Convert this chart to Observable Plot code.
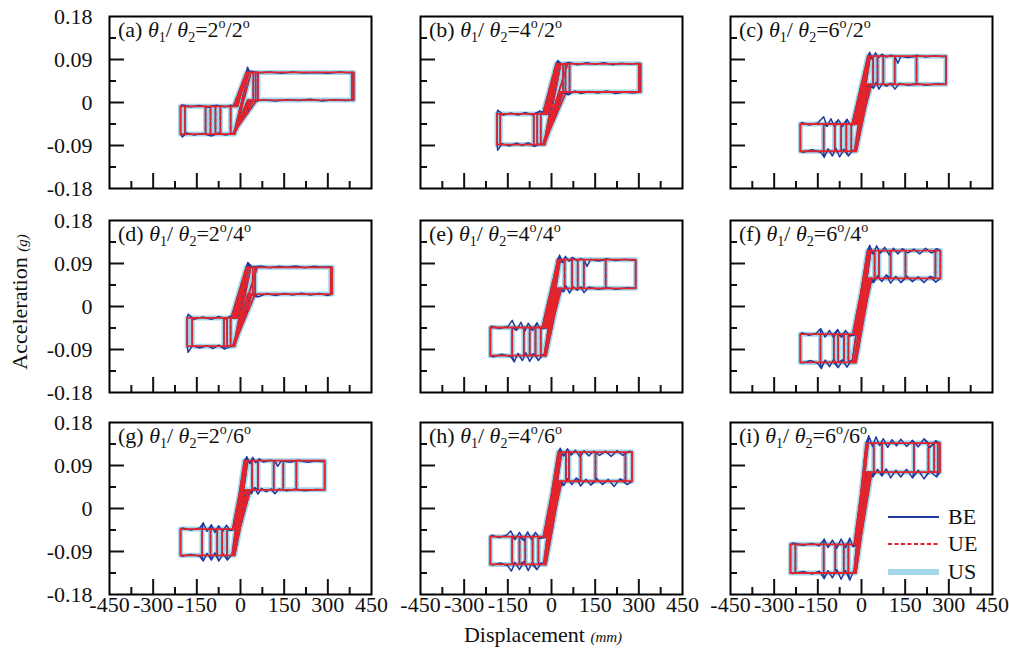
<!DOCTYPE html>
<html><head><meta charset="utf-8">
<script src="https://cdn.jsdelivr.net/npm/d3@7"></script>
<script src="https://cdn.jsdelivr.net/npm/@observablehq/plot@0.6"></script>
<style>
body{margin:0;background:#fff;}
#chart{position:relative;width:1009px;height:655px;overflow:hidden;background:#fff;font-family:"Liberation Serif","Times New Roman",serif;color:#111;}
.panel{position:absolute;}
.ptitle{position:absolute;font-size:22px;white-space:nowrap;line-height:22px;}
.ptitle .s{font-size:14px;position:relative;top:5px;}
.ptitle .o{font-size:14px;position:relative;top:-9px;}
.axt{position:absolute;font-size:22px;white-space:nowrap;line-height:22px;}
.axt .u{font-size:15px;font-style:italic;}
</style></head><body><div id="chart"></div>
<script>
// ---------- data ----------
const panelIds = ["a","b","c","d","e","f","g","h","i"];
const theta1 = [2,4,6,2,4,6,2,4,6];
const theta2 = [2,2,2,4,4,4,6,6,6];
const xTickValues = [-450,-300,-150,0,150,300,450];
const xTickLabels = ["-450","-300","-150","0","150","300","450"];
const xMinorValues = [-375,-225,-75,75,225,375];
const yTickValues = [-0.18,-0.09,0,0.09,0.18];
const yTickLabels = ["-0.18","-0.09","0","0.09","0.18"];
const yMinorValues = [-0.135,-0.045,0.045,0.135];
const seriesNames = ["BE","UE","US"];

// plateau levels (g)
const posTop = [0.063,0.081,0.097,0.082,0.098,0.117,0.100,0.118,0.137];
const posBot = [0.005,0.022,0.038,0.026,0.038,0.059,0.039,0.057,0.076];
const negTop = [-0.008,-0.024,-0.045,-0.024,-0.044,-0.058,-0.043,-0.059,-0.075];
const negBot = [-0.066,-0.088,-0.102,-0.083,-0.103,-0.117,-0.098,-0.117,-0.135];
// per cycle: where the lower positive plateau / upper negative plateau leave for the steep branch (mm)
const posEdge = [
  [62,50,40,30,56,45,35,25],[55,45,35,25,60,50,40,30],[38,30,22,14,34,26,18,10],
  [55,45,35,25,65,50,40,30],[38,30,22,14,34,26,18,10],[38,32,26,20,35,29,23,16],
  [31,25,19,12,34,28,22,8],[38,32,26,20,35,29,23,17],[35,30,25,20,33,28,23,15]
];
const negEdge = [
  [-24,-20,-16,-12,-22,-18,-14,-10],[-30,-25,-20,-15,-28,-23,-18,-12],[-32,-26,-20,-14,-29,-23,-17,-10],
  [-32,-26,-20,-14,-29,-23,-17,-11],[-32,-26,-20,-14,-29,-23,-17,-10],[-32,-27,-22,-17,-30,-25,-20,-12],
  [-29,-24,-19,-14,-27,-22,-17,-12],[-30,-25,-20,-15,-28,-23,-18,-11],[-26,-22,-18,-14,-25,-20,-16,-13]
];
// reversal displacements of each cycle (mm)
const posRev = [
  [28,36,44,52,60,389,383,389],
  [25,32,40,48,55,62,306,300],
  [30,40,55,75,114,189,290,290],
  [28,35,42,50,57,315,310,315],
  [30,45,71,90,111,186,289,289],
  [32,45,60,100,151,254,271,271],
  [25,40,60,114,147,192,289,289],
  [35,50,60,100,151,254,277,277],
  [42,71,180,230,250,262,269,269]
];
const negRev = [
  [-34,-69,-86,-103,-120,-191,-206,-206],
  [-37,-49,-61,-176,-187,-187,-61,-49],
  [-35,-52,-70,-92,-130,-210,-210,-52],
  [-34,-46,-57,-166,-183,-183,-46,-57],
  [-37,-55,-75,-95,-135,-210,-210,-55],
  [-32,-45,-60,-80,-95,-141,-210,-210],
  [-29,-46,-63,-80,-103,-132,-206,-206],
  [-27,-45,-65,-90,-110,-135,-210,-210],
  [-26,-45,-61,-90,-130,-227,-244,-244]
];
// where the steep branch meets the top / bottom plateau, per cycle (mm)
const topTip = [
  [20,23,26,21,24,22,25,23],[16,19,22,18,21,17,20,23],[22,25,28,24,27,23,26,29],
  [20,23,26,21,24,22,25,23],[22,25,28,23,26,21,24,27],[22,25,28,23,26,21,24,27],
  [14,17,20,15,18,13,16,19],[24,27,30,25,28,23,26,29],[17,20,23,18,21,16,19,22]
];
const botTip = [
  [-26,-23,-20,-25,-22,-27,-24,-21],[-29,-26,-23,-28,-25,-30,-27,-24],[-24,-21,-18,-23,-20,-25,-22,-19],
  [-26,-23,-20,-25,-22,-27,-24,-21],[-25,-22,-19,-24,-21,-26,-23,-20],[-25,-22,-19,-24,-21,-26,-23,-20],
  [-26,-23,-20,-25,-22,-27,-24,-21],[-25,-22,-19,-24,-21,-26,-23,-20],[-25,-22,-19,-24,-21,-26,-23,-20]
];
// BE (measured) fluctuations along each plateau: [x (mm), y (g)]
const beUpperPos = [
  [[24,0.074],[30,0.066],[60,0.062],[100,0.064],[140,0.061],[180,0.064],[220,0.062],[260,0.063],[300,0.061],[340,0.064],[375,0.062]],
  [[22,0.088],[35,0.080],[60,0.084],[90,0.079],[120,0.083],[150,0.080],[180,0.083],[210,0.079],[240,0.082],[270,0.080],[295,0.082]],
  [[28,0.105],[38,0.090],[48,0.104],[58,0.094],[70,0.101],[85,0.095],[100,0.099],[115,0.096],[125,0.082],[135,0.097],[160,0.094],[190,0.099],[220,0.095],[250,0.098],[280,0.096]],
  [[25,0.092],[40,0.083],[70,0.085],[100,0.081],[130,0.084],[160,0.082],[190,0.085],[220,0.081],[250,0.084],[280,0.082],[305,0.083]],
  [[28,0.107],[38,0.092],[48,0.105],[60,0.095],[72,0.103],[88,0.096],[100,0.100],[112,0.097],[122,0.084],[135,0.099],[160,0.095],[190,0.100],[220,0.096],[250,0.099],[280,0.097]],
  [[28,0.128],[40,0.110],[52,0.127],[65,0.112],[80,0.124],[95,0.108],[110,0.122],[125,0.110],[140,0.121],[160,0.112],[180,0.120],[200,0.110],[220,0.122],[240,0.112],[258,0.121]],
  [[22,0.108],[32,0.094],[42,0.107],[52,0.096],[65,0.104],[80,0.097],[100,0.101],[118,0.099],[128,0.088],[140,0.100],[170,0.097],[200,0.101],[230,0.097],[260,0.100],[282,0.098]],
  [[30,0.126],[42,0.110],[55,0.125],[68,0.112],[82,0.122],[98,0.108],[112,0.121],[128,0.110],[145,0.120],[165,0.111],[185,0.120],[205,0.109],[225,0.121],[245,0.111],[268,0.120]],
  [[25,0.152],[38,0.130],[50,0.150],[62,0.132],[75,0.146],[90,0.128],[105,0.144],[120,0.131],[135,0.145],[155,0.130],[175,0.143],[195,0.129],[215,0.146],[235,0.128],[255,0.142]]
];
const beLowerPos = [
  [[50,0.002],[80,0.006],[120,0.003],[160,0.006],[200,0.004],[240,0.007],[280,0.003],[320,0.006],[360,0.004]],
  [[58,0.016],[80,0.024],[100,0.019],[130,0.023],[160,0.020],[190,0.024],[220,0.019],[250,0.022],[280,0.020]],
  [[42,0.030],[50,0.042],[60,0.028],[72,0.040],[85,0.034],[100,0.040],[115,0.028],[130,0.040],[160,0.036],[190,0.040],[220,0.036],[260,0.039]],
  [[60,0.020],[90,0.027],[120,0.023],[150,0.027],[180,0.024],[210,0.028],[240,0.024],[270,0.027],[300,0.023]],
  [[42,0.031],[50,0.043],[62,0.028],[75,0.041],[88,0.034],[100,0.041],[112,0.029],[128,0.041],[160,0.036],[190,0.040],[220,0.036],[260,0.039]],
  [[42,0.050],[55,0.064],[70,0.052],[85,0.066],[100,0.049],[118,0.063],[135,0.050],[155,0.064],[175,0.052],[195,0.062],[215,0.050],[235,0.063],[255,0.051]],
  [[38,0.031],[48,0.044],[60,0.030],[72,0.042],[88,0.035],[105,0.041],[118,0.031],[132,0.041],[160,0.037],[190,0.041],[220,0.037],[260,0.040]],
  [[42,0.048],[55,0.062],[70,0.050],[85,0.064],[100,0.047],[118,0.061],[135,0.049],[155,0.063],[175,0.050],[195,0.061],[215,0.046],[235,0.062],[260,0.050]],
  [[40,0.066],[55,0.082],[70,0.068],[85,0.083],[100,0.064],[118,0.080],[135,0.066],[155,0.082],[175,0.064],[195,0.080],[215,0.062],[235,0.078],[258,0.066]]
];
const beUpperNeg = [
  [[-200,-0.005],[-170,-0.009],[-140,-0.006],[-110,-0.010],[-80,-0.006],[-50,-0.009],[-35,-0.006]],
  [[-185,-0.016],[-165,-0.026],[-140,-0.022],[-115,-0.026],[-90,-0.021],[-65,-0.026],[-40,-0.018]],
  [[-205,-0.042],[-180,-0.047],[-150,-0.043],[-130,-0.030],[-118,-0.050],[-105,-0.034],[-92,-0.052],[-80,-0.036],[-65,-0.050],[-50,-0.035],[-38,-0.047]],
  [[-180,-0.016],[-160,-0.027],[-130,-0.022],[-100,-0.027],[-75,-0.021],[-50,-0.026],[-35,-0.020]],
  [[-205,-0.041],[-180,-0.046],[-150,-0.042],[-135,-0.029],[-120,-0.050],[-105,-0.033],[-92,-0.052],[-80,-0.035],[-65,-0.050],[-50,-0.034],[-38,-0.047]],
  [[-205,-0.055],[-180,-0.060],[-155,-0.056],[-140,-0.046],[-125,-0.064],[-110,-0.050],[-95,-0.066],[-82,-0.048],[-68,-0.064],[-55,-0.050],[-40,-0.062]],
  [[-200,-0.041],[-170,-0.045],[-140,-0.041],[-128,-0.030],[-115,-0.048],[-100,-0.034],[-88,-0.050],[-75,-0.036],[-62,-0.049],[-48,-0.035],[-36,-0.046]],
  [[-205,-0.056],[-180,-0.061],[-155,-0.056],[-140,-0.047],[-125,-0.065],[-110,-0.050],[-95,-0.067],[-82,-0.049],[-68,-0.066],[-55,-0.050],[-40,-0.063]],
  [[-235,-0.072],[-200,-0.077],[-170,-0.073],[-145,-0.078],[-128,-0.064],[-115,-0.082],[-100,-0.066],[-85,-0.083],[-70,-0.064],[-55,-0.082],[-40,-0.062],[-30,-0.080]]
];
const beLowerNeg = [
  [[-200,-0.072],[-185,-0.064],[-160,-0.068],[-130,-0.065],[-100,-0.070],[-75,-0.064],[-50,-0.068],[-30,-0.065]],
  [[-185,-0.100],[-170,-0.086],[-145,-0.091],[-120,-0.085],[-100,-0.090],[-80,-0.084],[-60,-0.092],[-40,-0.087]],
  [[-200,-0.104],[-170,-0.099],[-140,-0.104],[-128,-0.115],[-115,-0.097],[-100,-0.112],[-88,-0.096],[-75,-0.114],[-60,-0.098],[-45,-0.112],[-30,-0.100]],
  [[-180,-0.096],[-165,-0.082],[-140,-0.087],[-115,-0.082],[-95,-0.088],[-75,-0.081],[-55,-0.089],[-35,-0.084]],
  [[-200,-0.105],[-170,-0.100],[-140,-0.105],[-128,-0.116],[-115,-0.098],[-100,-0.113],[-88,-0.097],[-75,-0.115],[-60,-0.099],[-45,-0.113],[-30,-0.101]],
  [[-200,-0.118],[-175,-0.113],[-150,-0.119],[-138,-0.130],[-125,-0.112],[-110,-0.126],[-95,-0.110],[-80,-0.128],[-65,-0.112],[-50,-0.127],[-35,-0.113]],
  [[-200,-0.100],[-170,-0.096],[-140,-0.100],[-128,-0.110],[-115,-0.094],[-100,-0.108],[-88,-0.093],[-75,-0.110],[-60,-0.095],[-45,-0.108],[-30,-0.097]],
  [[-200,-0.118],[-175,-0.114],[-150,-0.120],[-138,-0.131],[-125,-0.113],[-110,-0.128],[-95,-0.111],[-80,-0.130],[-65,-0.112],[-50,-0.128],[-35,-0.114]],
  [[-235,-0.136],[-200,-0.132],[-170,-0.137],[-145,-0.131],[-128,-0.147],[-115,-0.130],[-100,-0.145],[-85,-0.128],[-70,-0.148],[-55,-0.130],[-40,-0.150],[-28,-0.132]]
];

// ---------- styling ----------
const colors = {BE:"#1f3c9e", UE:"#e4232a", US:"#a4d6e8"};
const colLeft = [109,420,730], rowTop = [16,220,422];
const PW = 262, PH = 172, ML = 75, MR = 28, MT = 6, MB = 36;

// assemble the traced path of one panel from the values above
function buildPath(p, withNoise) {
  const pt=posTop[p], pb=posBot[p], nt=negTop[p], nb=negBot[p];
  const SR=posEdge[p], SL=negEdge[p];
  const P=posRev[p], N=negRev[p], TT=topTip[p], TB=botTip[p];
  const out=[];
  const add=(x,y)=>out.push({x,y});
  const along=(arr,xa,xb)=>{
    if(!withNoise) return;
    const lo=Math.min(xa,xb), hi=Math.max(xa,xb);
    let pts=arr.filter(d=>d[0]>lo&&d[0]<hi);
    if(xb<xa) pts=pts.slice().reverse();
    pts.forEach(d=>add(d[0],d[1]));
  };
  add(TB[0], nb);
  for(let k=0;k<P.length;k++){
    const xN=N[k], xP=P[k], sL=SL[k], sR=SR[k];
    along(beLowerNeg[p], TB[k], xN); add(xN, nb);
    if(xN < sL){ add(xN, nt); along(beUpperNeg[p], xN, sL); add(sL, nt); }
    add(TT[k], pt);
    along(beUpperPos[p], TT[k], xP); add(xP, pt);
    if(xP > sR){ add(xP, pb); along(beLowerPos[p], xP, sR); add(sR, pb); }
    add(TB[(k+1)%P.length], nb);
  }
  return out;
}

const chart = document.getElementById("chart");
const tickStyle = {strokeWidth:2, label:null, tickFormat:()=>""};

panelIds.forEach((id,p)=>{
  const col=p%3, row=Math.floor(p/3);
  const us=buildPath(p,false), ue=buildPath(p,false), be=buildPath(p,true);
  const marks=[
    Plot.line(us,{x:"x",y:"y",stroke:colors.US,strokeWidth:5,strokeLinejoin:"round"}),
    Plot.line(be,{x:"x",y:"y",stroke:colors.BE,strokeWidth:1.5,strokeLinejoin:"round"}),
    Plot.line(ue,{x:"x",y:"y",stroke:colors.UE,strokeWidth:1.8,strokeDasharray:"4,2.5"}),
    Plot.axisX({ticks:xTickValues.slice(1,-1),tickSize:-15,...tickStyle}),
    Plot.axisX({ticks:xMinorValues,tickSize:-7,...tickStyle}),
    Plot.axisY({ticks:yTickValues.slice(1,-1),tickSize:-15,...tickStyle}),
    Plot.axisY({ticks:yMinorValues,tickSize:-7,...tickStyle}),
    Plot.frame({stroke:"#000",strokeWidth:2})
  ];
  if(row===2) marks.push(Plot.axisX({ticks:xTickValues,tickSize:0,tickPadding:2,label:null,
    tickFormat:d=>xTickLabels[xTickValues.indexOf(d)]}));
  if(col===0) marks.push(Plot.axisY({ticks:yTickValues,tickSize:0,tickPadding:17,label:null,
    tickFormat:d=>yTickLabels[yTickValues.indexOf(d)]}));
  const svg=Plot.plot({
    width:ML+PW+MR, height:MT+PH+MB,
    marginLeft:ML, marginRight:MR, marginTop:MT, marginBottom:MB,
    x:{domain:[-450,450]}, y:{domain:[-0.18,0.18]},
    style:{fontFamily:"Liberation Serif, Times New Roman, serif",fontSize:"22px",background:"transparent",overflow:"visible",color:"#111"},
    marks
  });
  svg.classList.add("panel");
  svg.style.left=(colLeft[col]-ML)+"px";
  svg.style.top=(rowTop[row]-MT)+"px";
  chart.appendChild(svg);
  const t=document.createElement("div");
  t.className="ptitle";
  t.style.left=(colLeft[col]+9)+"px";
  t.style.top=(rowTop[row]+3)+"px";
  t.innerHTML=`(${id}) <i>θ</i><span class="s">1</span>/ <i>θ</i><span class="s">2</span>=${theta1[p]}<span class="o">o</span>/${theta2[p]}<span class="o">o</span>`;
  chart.appendChild(t);
});

// axis titles
const yt=document.createElement("div");
yt.className="axt";
yt.style.left="21px"; yt.style.top="302px";
yt.style.transform="translate(-50%,-50%) rotate(-90deg)";
yt.innerHTML='Acceleration <span class="u">(g)</span>';
chart.appendChild(yt);
const xt=document.createElement("div");
xt.className="axt";
xt.style.left="543px"; xt.style.top="636px";
xt.style.transform="translate(-50%,-50%)";
xt.innerHTML='Displacement <span class="u">(mm)</span>';
chart.appendChild(xt);

// legend in panel (i)
const lg=d3.select(chart).append("svg")
  .attr("width",1009).attr("height",655)
  .style("position","absolute").style("left","0px").style("top","0px");
const legY=[517,544,572];
seriesNames.forEach((n,i)=>{
  const g=lg.append("g");
  g.append("line").attr("x1",888).attr("x2",939).attr("y1",legY[i]).attr("y2",legY[i])
    .attr("stroke",colors[n])
    .attr("stroke-width",n==="US"?6:1.8)
    .attr("stroke-dasharray",n==="UE"?"4,2.5":null);
  g.append("text").attr("x",948).attr("y",legY[i]+7).text(n)
    .attr("font-family","Liberation Serif, Times New Roman, serif").attr("font-size",22).attr("fill","#111");
});
</script></body></html>
